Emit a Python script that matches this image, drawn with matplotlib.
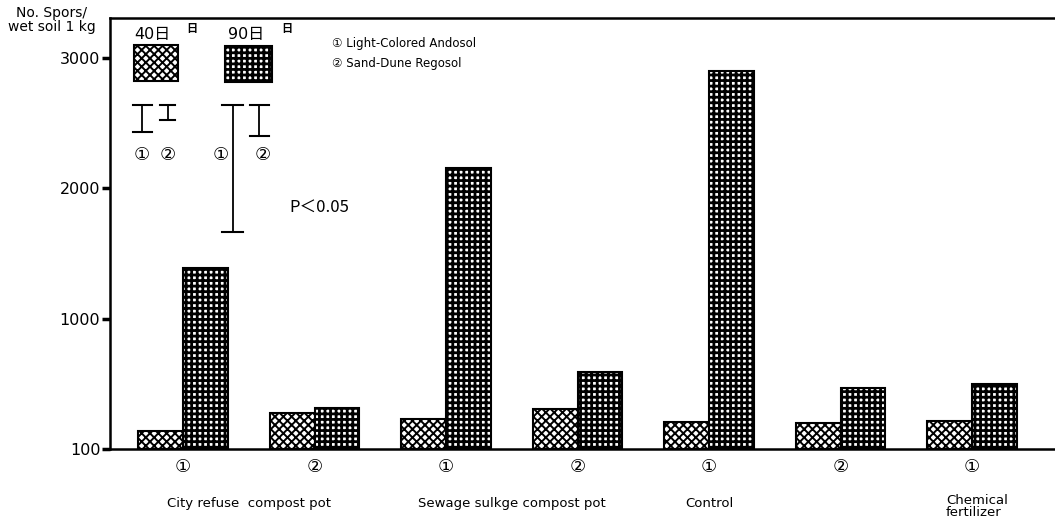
import matplotlib
matplotlib.use("Agg")
import matplotlib.pyplot as plt
import matplotlib.transforms as mtransforms
from matplotlib.patches import Rectangle
import numpy as np

plt.rcParams['font.family'] = ['DejaVu Sans', 'Noto Sans CJK JP']

# data (spores per kg wet soil)
soil_marks = ["①", "②", "①", "②", "①", "②", "①"]
day40 = [138, 276, 232, 306, 207, 199, 215]
day90 = [1387, 314, 2150, 590, 2900, 467, 495]
groups = ["City refuse  compost pot", "Sewage sulkge compost pot", "Control", "Chemical\nfertilizer"]
ytick_vals = [0, 1000, 2000, 3000]
ytick_labels = ["100", "1000", "2000", "3000"]
# LSD bars (P<0.05): 40 days soil 1/2, 90 days soil 1/2
lsd40 = [207, 115]
lsd90 = [973, 238]

hatch40 = "xxxx"
hatch90 = "+++"
hlw40 = 1.4
hlw90 = 2.0

fig = plt.figure(figsize=(10.55, 5.23), dpi=100)
ax = fig.add_axes([0.1043, 0.1415, 0.8957, 0.824])
ta = ax.transAxes

x = np.arange(len(day40))
w = 0.34
plt.rcParams['hatch.linewidth'] = hlw40
ax.bar(x - w / 2, day40, width=w, facecolor="white", edgecolor="black",
       hatch=hatch40, linewidth=1.5)
ax.add_patch(Rectangle((0.025, 0.855), 0.047, 0.082, transform=ta,
                       facecolor="white", edgecolor="black", hatch=hatch40, lw=1.5))
plt.rcParams['hatch.linewidth'] = hlw90
ax.bar(x + w / 2, day90, width=w, facecolor="white", edgecolor="black",
       hatch=hatch90, linewidth=1.5)
ax.add_patch(Rectangle((0.122, 0.852), 0.049, 0.082, transform=ta,
                       facecolor="white", edgecolor="black", hatch=hatch90, lw=1.5))

ax.set_xlim(-0.555, 6.63)
ax.set_ylim(0, 3303)
ax.set_yticks(ytick_vals)
ax.set_yticklabels(ytick_labels, fontsize=11.5)
ax.tick_params(axis="y", direction="out", length=6, width=2.5, pad=1)
ax.set_xticks([])
for s in ["top", "left", "bottom"]:
    ax.spines[s].set_linewidth(1.8)
ax.spines["right"].set_visible(False)

# x labels
for xi, m in zip(x, soil_marks):
    ax.text(xi, -140, m, ha="center", va="center", fontsize=13)
ax.text(0.5, -420, groups[0], ha="center", va="center", fontsize=9.5)
ax.text(2.5, -420, groups[1], ha="center", va="center", fontsize=9.5)
ax.text(4.0, -420, groups[2], ha="center", va="center", fontsize=9.5)
ax.text(5.8, -440, groups[3], ha="left", va="center", fontsize=9.5,
        linespacing=0.9)

# y axis title
fig.text(0.049, 0.962, "No. Spors/\nwet soil 1 kg", ha="center", va="center",
         fontsize=10, linespacing=1.0)

# key in the upper left
ax.text(0.026, 0.962, "40日", transform=ta, fontsize=11.5, va="center")
ax.text(0.081, 0.975, "日", transform=ta, fontsize=8, va="center", weight="bold")
ax.text(0.125, 0.962, "90日", transform=ta, fontsize=11.5, va="center")
ax.text(0.181, 0.975, "日", transform=ta, fontsize=8, va="center", weight="bold")

blend = mtransforms.blended_transform_factory(ta, ax.transData)
lsd_top = 2636
lsd_x = [0.034, 0.061, 0.130, 0.158]
cap = [0.010, 0.008, 0.011, 0.010]
for xi, c, v in zip(lsd_x, cap, lsd40 + lsd90):
    ax.plot([xi, xi], [lsd_top, lsd_top - v], color="black", lw=1.3, transform=blend)
    ax.plot([xi - c, xi + c], [lsd_top, lsd_top], color="black", lw=1.5, transform=blend)
    ax.plot([xi - c, xi + c], [lsd_top - v, lsd_top - v], color="black", lw=1.5,
            transform=blend)
for xi, m in zip([0.034, 0.061, 0.117, 0.162], ["①", "②", "①", "②"]):
    ax.text(xi, 0.683, m, transform=ta, ha="center", va="center", fontsize=13)

ax.text(0.19, 0.562, "P＜0.05", transform=ta, fontsize=12, va="center",
        family=["Noto Sans CJK JP"])

ax.text(0.235, 0.94, "① Light-Colored Andosol", transform=ta, fontsize=8.5,
        va="center")
ax.text(0.235, 0.895, "② Sand-Dune Regosol", transform=ta, fontsize=8.5,
        va="center")

fig.savefig("out.png", dpi=100)
